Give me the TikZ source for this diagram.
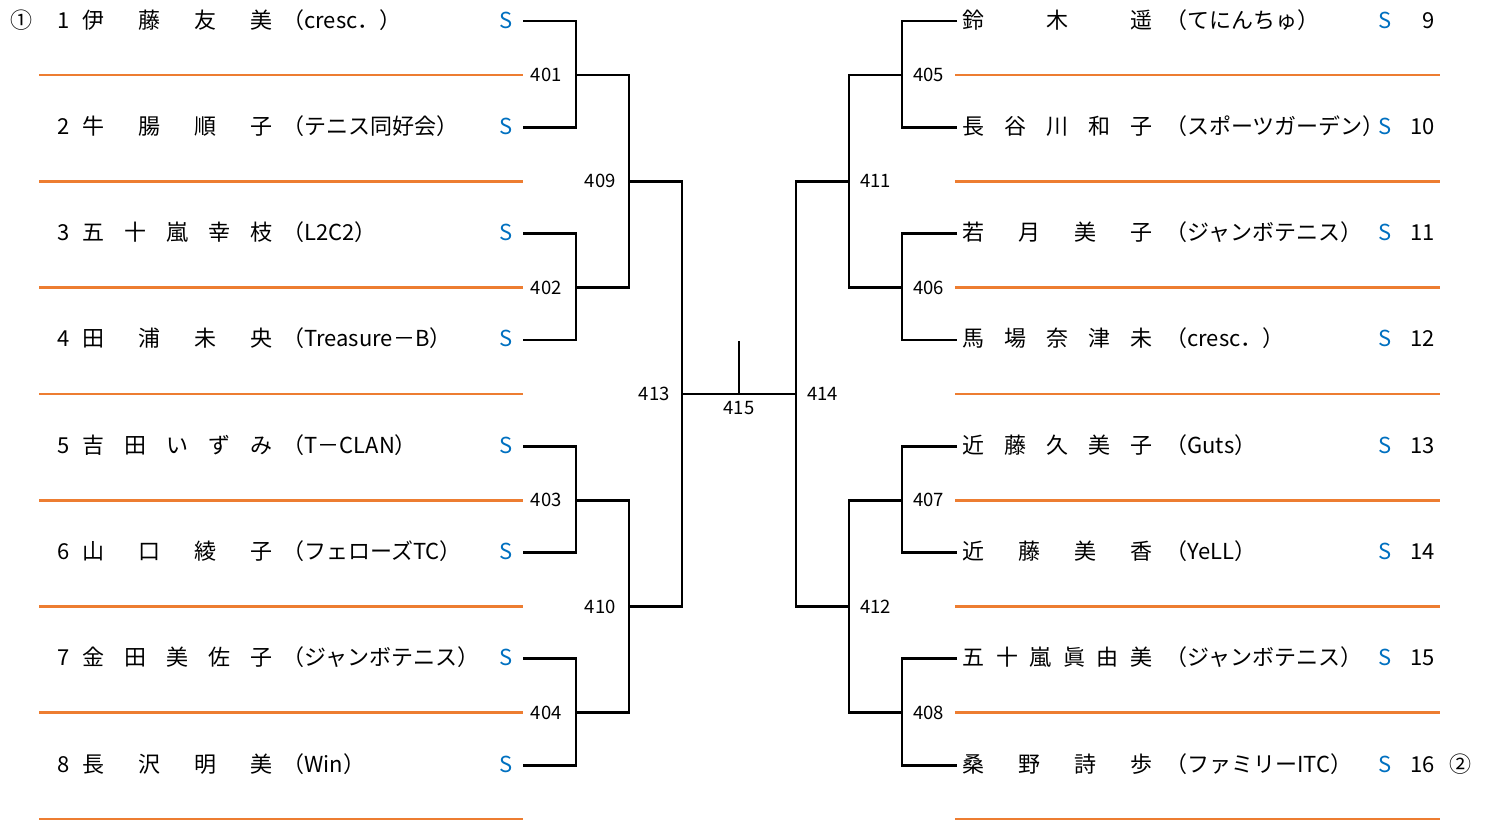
\documentclass[tikz,border=0pt]{standalone}
\usepackage{fontspec}
\setmainfont{Noto Sans CJK JP}
\usetikzlibrary{positioning}
\definecolor{sblue}{RGB}{0,112,192}
\definecolor{lineorange}{RGB}{237,125,49}

\begin{document}
\begin{tikzpicture}[x=1pt,y=-1pt]
        \tikzstyle{every path}=[line width=2.8pt]

        \tikzstyle{txt}=[inner sep=0pt,text height=18pt,text depth=4pt,font=\fontsize{22}{22}\selectfont]
        \tikzstyle{snode}=[txt,text=sblue]
        \tikzstyle{mno}=[inner sep=0pt,font=\fontsize{18.5}{18.5}\selectfont]
        \tikzstyle{rule}=[draw=lineorange]
        \edef\namewd{190pt}

        \useasboundingbox (0,0) rectangle (1488,819);

        % left half
        \foreach \i/\nm/\cl in {1/{伊\hfill 藤\hfill 友\hfill 美}/{（cresc．）},
                2/{牛\hfill 腸\hfill 順\hfill 子}/{（テニス同好会）},
                3/{五\hfill 十\hfill 嵐\hfill 幸\hfill 枝}/{（L2C2）},
                4/{田\hfill 浦\hfill 未\hfill 央}/{（Treasure－B）},
                5/{吉\hfill 田\hfill い\hfill ず\hfill み}/{（T－CLAN）},
                6/{山\hfill 口\hfill 綾\hfill 子}/{（フェローズTC）},
                7/{金\hfill 田\hfill 美\hfill 佐\hfill 子}/{（ジャンボテニス）},
                8/{長\hfill 沢\hfill 明\hfill 美}/{（Win）}} {
            \pgfmathsetmacro\yy{21+(\i-1)*106.3}
            \node [txt] (nL\i) at (64,\yy) {\i};
            \node [txt,anchor=west] (naL\i) at (81,\yy) {\makebox[\namewd][l]{\nm}};
            \node [txt,anchor=west] (clL\i) at (281,\yy) {\cl};
            \node [snode] (sL\i) at (506,\yy) {S};
            \coordinate (pL\i) at (523,\yy);
            \draw [rule] (39,\yy+54) -- (523,\yy+54);
        };

        % right half
        \foreach \i/\nm/\cl in {9/{鈴\hfill 木\hfill 遥}/{（てにんちゅ）},
                10/{長\hfill 谷\hfill 川\hfill 和\hfill 子}/{（スポーツガーデン）},
                11/{若\hfill 月\hfill 美\hfill 子}/{（ジャンボテニス）},
                12/{馬\hfill 場\hfill 奈\hfill 津\hfill 未}/{（cresc．）},
                13/{近\hfill 藤\hfill 久\hfill 美\hfill 子}/{（Guts）},
                14/{近\hfill 藤\hfill 美\hfill 香}/{（YeLL）},
                15/{五\hfill 十\hfill 嵐\hfill 眞\hfill 由\hfill 美}/{（ジャンボテニス）},
                16/{桑\hfill 野\hfill 詩\hfill 歩}/{（ファミリーITC）}} {
            \pgfmathsetmacro\yy{21+(\i-9)*106.3}
            \coordinate (pR\i) at (957,\yy);
            \node [txt,anchor=west] (naR\i) at (961,\yy) {\makebox[\namewd][l]{\nm}};
            \node [txt,anchor=west] (clR\i) at (1164,\yy) {\cl};
            \node [snode] (sR\i) at (1385,\yy) {S};
            \node [txt,anchor=east] (nR\i) at (1436,\yy) {\i};
            \draw [rule] (955,\yy+54) -- (1440,\yy+54);
        };

        \node [txt] (seed1) at (21,21) {①};
        \node [txt] (seed2) at (1460,765) {②};

        % joints
        \foreach \m/\y in {401/75, 402/287.6, 403/500.2, 404/712.8} {
            \coordinate (j\m) at (576,\y);
        };
        \foreach \m/\y in {405/75, 406/287.6, 407/500.2, 408/712.8} {
            \coordinate (j\m) at (902,\y);
        };
        \coordinate (j409) at (629,181.3);
        \coordinate (j410) at (629,606.5);
        \coordinate (j411) at (849,181.3);
        \coordinate (j412) at (849,606.5);
        \coordinate (j413) at (682,393.9);
        \coordinate (j414) at (796,393.9);
        \coordinate (j415) at (739,393.9);
        \coordinate (j415top) at (739,341);

        % first round
        \foreach \m/\a/\b in {401/1/2, 402/3/4, 403/5/6, 404/7/8} {
            \draw (pL\a) -| (j\m) |- (pL\b);
        };
        \foreach \m/\a/\b in {405/9/10, 406/11/12, 407/13/14, 408/15/16} {
            \draw (pR\a) -| (j\m) |- (pR\b);
        };

        \draw (j401) -| (j409) |- (j402);   % 401,402->409
        \draw (j403) -| (j410) |- (j404);   % 403,404->410
        \draw (j405) -| (j411) |- (j406);   % 405,406->411
        \draw (j407) -| (j412) |- (j408);   % 407,408->412
        \draw (j409) -| (j413) |- (j410);   % 409,410->413
        \draw (j411) -| (j414) |- (j412);   % 411,412->414
        \draw (j413) -- (j415) -- (j414);   % final
        \draw (j415) -- (j415top);

        % match numbers
        \foreach \m in {401,402,403,404} {
            \node [mno,left=13pt of j\m] (l\m) {\m};
        };
        \foreach \m in {405,406,407,408} {
            \node [mno,right=10pt of j\m] (l\m) {\m};
        };
        \node [mno,left=12pt of j409] (l409) {409};
        \node [mno,left=12pt of j410] (l410) {410};
        \node [mno,right=10pt of j411] (l411) {411};
        \node [mno,right=10pt of j412] (l412) {412};
        \node [mno,left=11pt of j413] (l413) {413};
        \node [mno,right=10pt of j414] (l414) {414};
        \node [mno,below=6pt of j415] (l415) {415};

\end{tikzpicture}
\end{document}
